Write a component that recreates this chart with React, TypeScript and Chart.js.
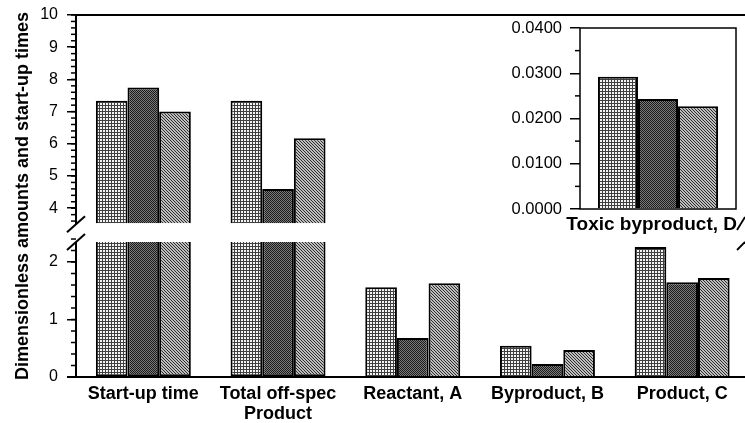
import React, { useEffect, useRef } from 'react';
import { Chart, registerables } from 'chart.js';

Chart.register(...registerables);

// ---------- data ----------
const CATEGORIES: string[][] = [
  ['Start-up time'],
  ['Total off-spec', 'Product'],
  ['Reactant, A'],
  ['Byproduct, B'],
  ['Product, C'],
];
const SERIES_1 = [7.34, 7.34, 1.56, 0.545, 2.26];
const SERIES_2 = [7.75, 4.6, 0.68, 0.226, 1.65];
const SERIES_3 = [7.0, 6.17, 1.63, 0.47, 1.72];

const INSET_CATEGORY = 'Toxic byproduct, D';
const INSET_1 = [0.0292];
const INSET_2 = [0.0243];
const INSET_3 = [0.0227];

const TOP_TICKS = [4, 5, 6, 7, 8, 9, 10];
const BOTTOM_TICKS = [0, 1, 2];
const INSET_TICKS = [0, 0.01, 0.02, 0.03, 0.04];
const MINOR_STEP = 0.2;
const INSET_MINOR_STEP = 0.005;

const Y_TITLE = 'Dimensionless amounts and start-up times';

// axis break: upper segment shows values from BREAK_UPPER, lower segment up to BREAK_LOWER
const BREAK_UPPER = 3.53;
const BREAK_LOWER = 2.35;
const TOP_MIN = 3.261;
const TOP_MAX = 10;
const BOT_MIN = 0;
const BOT_MAX = 2.522;

const FONT = '"Liberation Sans", Arial, Helvetica, sans-serif';

function makePattern(kind: number): CanvasPattern {
  const c = document.createElement('canvas');
  const ctx = c.getContext('2d')!;
  if (kind === 0) {
    c.width = 3; c.height = 3;
    ctx.fillStyle = '#f4f4f4'; ctx.fillRect(0, 0, 3, 3);
    ctx.fillStyle = '#404040'; ctx.fillRect(0, 0, 3, 1); ctx.fillRect(0, 0, 1, 3);
  } else if (kind === 1) {
    c.width = 2; c.height = 2;
    ctx.fillStyle = '#7c7c7c'; ctx.fillRect(0, 0, 2, 2);
    ctx.fillStyle = '#1a1a1a'; ctx.fillRect(0, 0, 1, 1); ctx.fillRect(1, 1, 1, 1);
  } else {
    c.width = 3; c.height = 3;
    ctx.fillStyle = '#bdbdbd'; ctx.fillRect(0, 0, 3, 3);
    ctx.fillStyle = '#2c2c2c';
    for (let i = 0; i < 3; i++) ctx.fillRect(i, i, 1, 1);
  }
  return ctx.createPattern(c, 'repeat')!;
}

function line(ctx: CanvasRenderingContext2D, x1: number, y1: number, x2: number, y2: number) {
  ctx.beginPath();
  ctx.moveTo(x1, y1);
  ctx.lineTo(x2, y2);
  ctx.stroke();
}

function minorValues(from: number, to: number, step: number): number[] {
  const out: number[] = [];
  const n = Math.round((to - from) / step);
  for (let i = 0; i <= n; i++) out.push(from + i * step);
  return out;
}

const mainDecor = {
  id: 'mainDecor',
  afterDraw(chart: any) {
    const ctx: CanvasRenderingContext2D = chart.ctx;
    const yT = chart.scales.yTop;
    const yB = chart.scales.yBot;
    const left = chart.chartArea.left;
    const W = chart.width;
    const top = yT.getPixelForValue(TOP_MAX);
    const base = yB.getPixelForValue(0);
    const upEnd = yT.getPixelForValue(BREAK_UPPER) + 1;
    const lowStart = yB.getPixelForValue(BREAK_LOWER);
    ctx.save();
    ctx.strokeStyle = '#000';
    ctx.lineWidth = 2;
    line(ctx, left - 1, top, W, top);
    line(ctx, left - 9, base, W, base);
    line(ctx, left, top, left, upEnd);
    line(ctx, left, lowStart, left, base);
    // minor ticks
    ctx.lineWidth = 1.5;
    for (const v of minorValues(3.6, 10, MINOR_STEP)) {
      const y = yT.getPixelForValue(v);
      line(ctx, left - 5, y, left, y);
    }
    for (const v of minorValues(0, 2.4, MINOR_STEP)) {
      const y = yB.getPixelForValue(v);
      line(ctx, left - 5, y, left, y);
    }
    // break marks
    ctx.lineWidth = 2;
    line(ctx, left - 9, upEnd + 8, left + 9, upEnd - 8);
    line(ctx, left - 9, lowStart + 8, left + 9, lowStart - 8);
    // y title
    ctx.translate(28, (top + base) / 2);
    ctx.rotate(-Math.PI / 2);
    ctx.font = `bold 18px ${FONT}`;
    ctx.fillStyle = '#000';
    ctx.textAlign = 'center';
    ctx.textBaseline = 'alphabetic';
    ctx.fillText(Y_TITLE, 0, 0);
    ctx.restore();
  },
};

const insetDecor = {
  id: 'insetDecor',
  afterDraw(chart: any) {
    const ctx: CanvasRenderingContext2D = chart.ctx;
    const { left, top, right, bottom } = chart.chartArea;
    const y = chart.scales.y;
    ctx.save();
    ctx.strokeStyle = '#000';
    ctx.lineWidth = 1.5;
    ctx.strokeRect(left, top, right - left, bottom - top);
    for (const v of minorValues(INSET_MINOR_STEP, 0.04, 0.01)) {
      const py = y.getPixelForValue(v);
      line(ctx, left - 5, py, left, py);
    }
    ctx.font = `bold 19px ${FONT}`;
    ctx.fillStyle = '#000';
    ctx.textAlign = 'right';
    ctx.textBaseline = 'alphabetic';
    ctx.fillText(INSET_CATEGORY, right + 1, bottom + 21);
    ctx.lineWidth = 1.8;
    line(ctx, right + 1, bottom + 21, right + 9, bottom + 8);
    line(ctx, right + 1, bottom + 41, right + 9, bottom + 33);
    ctx.restore();
  },
};

export default function App() {
  const mainRef = useRef<HTMLCanvasElement>(null);
  const insetRef = useRef<HTMLCanvasElement>(null);

  useEffect(() => {
    const patterns = [makePattern(0), makePattern(1), makePattern(2)];
    const series = [SERIES_1, SERIES_2, SERIES_3];
    const datasets: any[] = [];
    series.forEach((vals, i) => {
      datasets.push({
        label: `top${i}`,
        data: vals.map((v) => (v > BREAK_UPPER ? [BREAK_UPPER, v] : null)),
        yAxisID: 'yTop',
        stack: `s${i}`,
        backgroundColor: patterns[i],
        borderColor: '#000',
        borderWidth: 2,
        borderSkipped: 'bottom',
        categoryPercentage: 0.705,
        barPercentage: 1,
      });
    });
    series.forEach((vals, i) => {
      datasets.push({
        label: `bot${i}`,
        data: vals.map((v) => [0, Math.min(v, BREAK_LOWER)]),
        yAxisID: 'yBot',
        stack: `s${i}`,
        backgroundColor: patterns[i],
        borderColor: '#000',
        borderWidth: 2,
        borderSkipped: vals.map((v) => (v > BREAK_LOWER ? 'top' : 'bottom')),
        categoryPercentage: 0.705,
        barPercentage: 1,
      });
    });

    const yCommon = (ticks: number[]) => ({
      type: 'linear',
      position: 'left',
      stack: 'ys',
      stacked: false,
      afterBuildTicks: (scale: any) => {
        scale.ticks = ticks.map((value) => ({ value }));
      },
      afterFit: (scale: any) => {
        scale.width = 76;
        scale.paddingTop = 0;
        scale.paddingBottom = 0;
      },
      grid: { display: true, drawOnChartArea: false, drawTicks: true, tickLength: 9, color: '#000', lineWidth: 1.5 },
      border: { display: false },
      ticks: { color: '#000', font: { family: FONT, size: 16 }, padding: 9, autoSkip: false },
    });

    const main = new Chart(mainRef.current!, {
      type: 'bar',
      data: { labels: CATEGORIES as any, datasets },
      options: {
        animation: false,
        responsive: false,
        devicePixelRatio: 1,
        layout: { padding: { left: 0, top: 15, right: 2.5, bottom: 0 } },
        plugins: { legend: { display: false }, tooltip: { enabled: false } },
        scales: {
          x: {
            type: 'category',
            grid: { display: false, drawTicks: false },
            border: { display: false },
            afterFit: (scale: any) => {
              scale.height = 46;
              scale.paddingLeft = 0;
              scale.paddingRight = 0;
            },
            ticks: {
              color: '#000',
              font: { family: FONT, size: 18, weight: 'bold', lineHeight: 1.11 },
              padding: 7,
              maxRotation: 0,
              autoSkip: false,
            },
          },
          yBot: { ...yCommon(BOTTOM_TICKS), min: BOT_MIN, max: BOT_MAX, stackWeight: 145 },
          yTop: { ...yCommon(TOP_TICKS), min: TOP_MIN, max: TOP_MAX, stackWeight: 217 },
        } as any,
      },
      plugins: [mainDecor],
    });

    const insetSeries = [INSET_1, INSET_2, INSET_3];
    const inset = new Chart(insetRef.current!, {
      type: 'bar',
      data: {
        labels: [INSET_CATEGORY],
        datasets: insetSeries.map((vals, i) => ({
          label: `inset${i}`,
          data: vals,
          backgroundColor: patterns[i],
          borderColor: '#000',
          borderWidth: 2,
          borderSkipped: 'bottom',
          categoryPercentage: 0.77,
          barPercentage: 1,
        })),
      },
      options: {
        animation: false,
        responsive: false,
        devicePixelRatio: 1,
        layout: { padding: { left: 0, top: 12, right: 9, bottom: 47 } },
        plugins: { legend: { display: false }, tooltip: { enabled: false } },
        scales: {
          x: { display: false },
          y: {
            type: 'linear',
            min: 0,
            max: 0.04,
            afterBuildTicks: (scale: any) => {
              scale.ticks = INSET_TICKS.map((value) => ({ value }));
            },
            afterFit: (scale: any) => {
              scale.width = 110;
              scale.paddingTop = 0;
              scale.paddingBottom = 0;
            },
            grid: { display: true, drawOnChartArea: false, drawTicks: true, tickLength: 10, color: '#000', lineWidth: 1.5 },
            border: { display: false },
            ticks: {
              color: '#000',
              font: { family: FONT, size: 16.5 },
              padding: 8,
              autoSkip: false,
              callback: (v: any) => Number(v).toFixed(4),
            },
          },
        } as any,
      },
      plugins: [insetDecor],
    });

    return () => {
      main.destroy();
      inset.destroy();
    };
  }, []);

  return (
    <div style={{ position: 'fixed', left: 0, top: 0, width: 745, height: 423, overflow: 'hidden', background: '#fff' }}>
      <canvas ref={mainRef} width={752} height={423} style={{ position: 'absolute', left: 0, top: 0, display: 'block' }} />
      <canvas ref={insetRef} width={275} height={240} style={{ position: 'absolute', left: 470, top: 16, display: 'block' }} />
    </div>
  );
}
